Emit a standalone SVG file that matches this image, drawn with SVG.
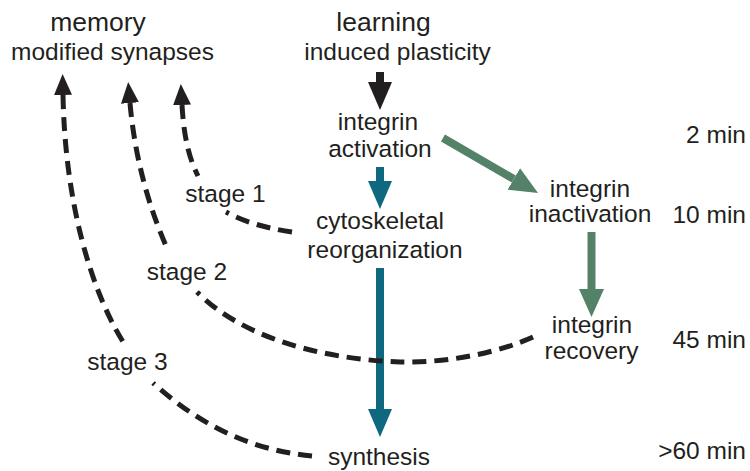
<svg xmlns="http://www.w3.org/2000/svg" width="750" height="471" viewBox="0 0 750 471">
<style>
text{font-family:"Liberation Sans",Arial,sans-serif;fill:#231f20;font-size:24.5px;text-anchor:middle}
.h{font-size:26.5px}
.t{text-anchor:end}
.dash{fill:none;stroke:#231f20;stroke-width:5;stroke-dasharray:14 8}
.big{fill:none;stroke-width:8}
</style>
<defs>
<marker id="hk" viewBox="0 0 28 24" markerWidth="28" markerHeight="24" refX="0" refY="12" orient="auto" markerUnits="userSpaceOnUse"><path d="M0,0 L28,12 L0,24 z" fill="#231f20"/></marker>
<marker id="ht" viewBox="0 0 28 24" markerWidth="28" markerHeight="24" refX="0" refY="12" orient="auto" markerUnits="userSpaceOnUse"><path d="M0,0 L28,12 L0,24 z" fill="#0d6880"/></marker>
<marker id="hg" viewBox="0 0 28 25" markerWidth="28" markerHeight="25" refX="0" refY="12.5" orient="auto" markerUnits="userSpaceOnUse"><path d="M0,0 L28,12.5 L0,25 z" fill="#548268"/></marker>
<marker id="hs" viewBox="0 0 21 18" markerWidth="21" markerHeight="18" refX="0" refY="9" orient="auto-start-reverse" markerUnits="userSpaceOnUse"><path d="M0,0 L21,9 L0,18 z" fill="#231f20"/></marker>
</defs>
<g id="connectors">
<line class="big" x1="380" y1="72" x2="380" y2="82" stroke="#231f20" marker-end="url(#hk)"/>
<line class="big" x1="380" y1="167" x2="380" y2="181" stroke="#0d6880" marker-end="url(#ht)"/>
<line class="big" x1="380" y1="268" x2="380" y2="409" stroke="#0d6880" marker-end="url(#ht)"/>
<line class="big" x1="443" y1="138" x2="513.8" y2="179" stroke="#548268" marker-end="url(#hg)"/>
<line class="big" x1="591.5" y1="232" x2="591.5" y2="289" stroke="#548268" marker-end="url(#hg)"/>
<path class="dash" d="M182 105 C184 140 190 160 198 176" marker-start="url(#hs)"/>
<path class="dash" d="M292 232 C265 228 245 222 226 212"/>
<path class="dash" d="M130 103 C135 160 150 210 167 248" marker-start="url(#hs)"/>
<path class="dash" d="M533 337 C500 352 450 363 400 362 C340 360 250 345 197 292"/>
<path class="dash" d="M63 95 C65 200 90 290 125 345" marker-start="url(#hs)"/>
<path class="dash" d="M312 456 C250 450 200 425 153 383"/>
</g>
<g id="memory"><text class="h" x="98" y="31">memory</text><text x="112.5" y="60">modified synapses</text></g>
<g id="learning"><text class="h" x="383.5" y="31">learning</text><text x="397.5" y="60">induced plasticity</text></g>
<g id="activation"><text x="378" y="130">integrin</text><text x="380" y="157">activation</text></g>
<g id="cytoskeletal"><text x="380" y="229">cytoskeletal</text><text x="385" y="258">reorganization</text></g>
<g id="synthesis"><text x="379" y="465">synthesis</text></g>
<g id="inactivation"><text x="590" y="197">integrin</text><text x="590" y="222">inactivation</text></g>
<g id="recovery"><text x="592" y="333">integrin</text><text x="591.5" y="359">recovery</text></g>
<g id="stage1"><text x="225.5" y="202">stage 1</text></g>
<g id="stage2"><text x="187" y="280">stage 2</text></g>
<g id="stage3"><text x="127.5" y="370">stage 3</text></g>
<g id="times"><text class="t" x="746" y="143">2 min</text><text class="t" x="746" y="223">10 min</text><text class="t" x="746" y="348">45 min</text><text class="t" x="746" y="459">&gt;60 min</text></g>
</svg>
